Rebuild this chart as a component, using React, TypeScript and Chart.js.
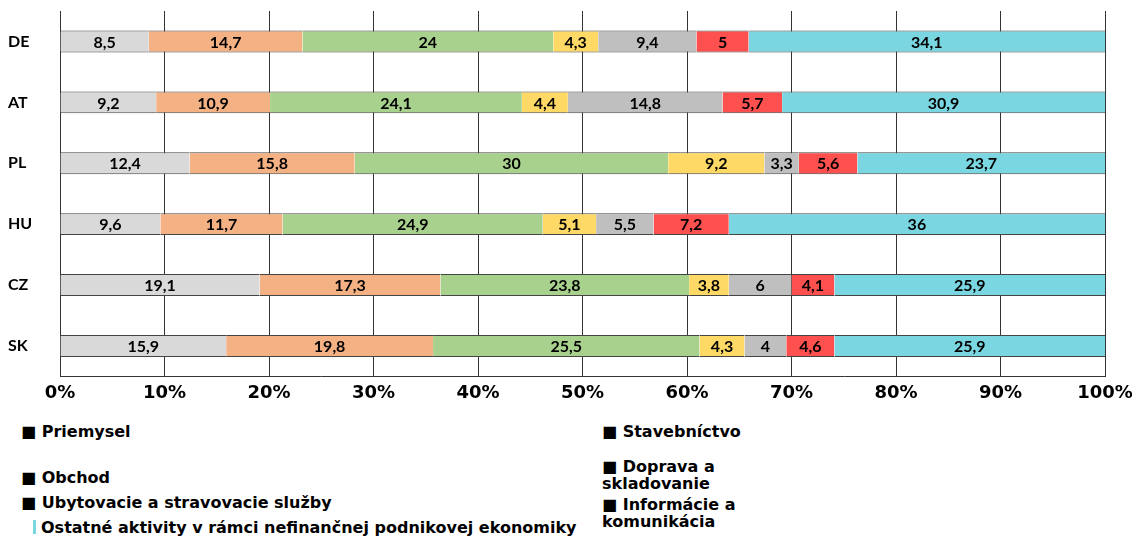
import React, { useEffect, useRef } from "react";
import { Chart, registerables } from "chart.js";

Chart.register(...registerables);

const countries = ["DE", "AT", "PL", "HU", "CZ", "SK"];
const seriesNames = [
  "Priemysel",
  "Stavebníctvo",
  "Obchod",
  "Doprava a skladovanie",
  "Ubytovacie a stravovacie služby",
  "Informácie a komunikácia",
  "Ostatné aktivity v rámci nefinančnej podnikovej ekonomiky",
];
const priemysel = [8.5, 9.2, 12.4, 9.6, 19.1, 15.9];
const stavebnictvo = [14.7, 10.9, 15.8, 11.7, 17.3, 19.8];
const obchod = [24, 24.1, 30, 24.9, 23.8, 25.5];
const doprava = [4.3, 4.4, 9.2, 5.1, 3.8, 4.3];
const ubytovanie = [9.4, 14.8, 3.3, 5.5, 6, 4];
const informacie = [5, 5.7, 5.6, 7.2, 4.1, 4.6];
const ostatne = [34.1, 30.9, 23.7, 36, 25.9, 25.9];
const seriesValues = [priemysel, stavebnictvo, obchod, doprava, ubytovanie, informacie, ostatne];
const seriesColors = ["#d9d9d9", "#f4b183", "#a9d18e", "#ffd966", "#bfbfbf", "#ff5050", "#7ad6e0"];
const xMin = 0;
const xMax = 100;
const xStep = 10;

const valueLabels = {
  id: "valueLabels",
  afterDatasetsDraw(chart: any) {
    const ctx = chart.ctx;
    ctx.save();
    ctx.font = "bold 16px Lato";
    ctx.fillStyle = "#000";
    ctx.textAlign = "center";
    ctx.textBaseline = "middle";
    chart.data.datasets.forEach((ds: any, i: number) => {
      const meta = chart.getDatasetMeta(i);
      meta.data.forEach((bar: any, j: number) => {
        const v = ds.data[j];
        const p = bar.getProps(["x", "base", "y"], true);
        ctx.fillText(String(v).replace(".", ","), (p.x + p.base) / 2, p.y + 1);
      });
    });
    ctx.restore();
  },
};

// legend item placement (layout only)
const legendLeft = [
  { s: 0, top: 4 },
  { s: 2, top: 50 },
  { s: 4, top: 75 },
  { s: 6, top: 100 },
];
const legendRight = [
  { s: 1, top: 4 },
  { s: 3, top: 40 },
  { s: 5, top: 78 },
];

export default function App() {
  const ref = useRef<HTMLCanvasElement>(null);

  useEffect(() => {
    if (!ref.current) return;
    const chart = new Chart(ref.current, {
      type: "bar",
      data: {
        labels: countries,
        datasets: seriesNames.map((name, i) => ({
          label: name,
          data: seriesValues[i],
          backgroundColor: seriesColors[i],
          borderColor: "#444",
          borderWidth: { top: 1, bottom: 1, left: 0, right: 0 },
          borderSkipped: false,
          barPercentage: 0.9,
          categoryPercentage: 0.4,
        })),
      },
      plugins: [valueLabels],
      options: {
        indexAxis: "y",
        animation: false,
        responsive: true,
        maintainAspectRatio: false,
        layout: { padding: { top: 3, right: 35, bottom: 8, left: 0 } },
        plugins: {
          legend: { display: false },
          tooltip: { enabled: false },
        },
        scales: {
          x: {
            stacked: true,
            min: xMin,
            max: xMax,
            ticks: {
              stepSize: xStep,
              callback: (v: any) => v + "%",
              color: "#000",
              font: { family: "DejaVu Sans", weight: "bold", size: 18 },
              padding: 6,
              maxRotation: 0,
              autoSkip: false,
            },
            grid: { color: "#333", lineWidth: 1, drawTicks: false },
            border: { display: true, color: "#333" },
            afterFit: (scale: any) => {
              scale.paddingRight = 0;
              scale.paddingLeft = 0;
            },
          },
          y: {
            stacked: true,
            grid: { display: false },
            border: { display: true, color: "#333" },
            ticks: {
              color: "#000",
              font: { family: "Lato", weight: "bold", size: 16 },
              crossAlign: "far",
            },
            afterFit: (scale: any) => {
              scale.width = 52;
              scale.paddingTop = 0;
              scale.paddingBottom = 0;
            },
          },
        },
      } as any,
    });
    return () => chart.destroy();
  }, []);

  const itemStyle: React.CSSProperties = {
    position: "absolute",
    fontFamily: "DejaVu Sans",
    fontWeight: "bold",
    fontSize: 16,
    lineHeight: "19px",
    color: "#000",
    whiteSpace: "nowrap",
  };

  const renderItem = (s: number, top: number, left: number, wrapWidth?: number) => {
    const last = s === seriesNames.length - 1;
    return (
      <div
        key={s}
        style={{
          ...itemStyle,
          top,
          left,
          whiteSpace: wrapWidth ? "normal" : "nowrap",
          width: wrapWidth,
          lineHeight: wrapWidth ? "17px" : "19px",
        }}
      >
        {last ? (
          <span
            style={{
              display: "inline-block",
              width: 3,
              height: 14,
              background: seriesColors[s],
              marginLeft: 12,
              marginRight: 5,
              verticalAlign: "-1px",
            }}
          />
        ) : (
          <span>■ </span>
        )}
        {seriesNames[s]}
      </div>
    );
  };

  return (
    <div style={{ width: 1132 }}>
      <div style={{ position: "relative", width: 1132, height: 410 }}>
        <canvas ref={ref} />
      </div>
      <div style={{ position: "relative", width: 1124, height: 125, overflow: "hidden" }}>
        {legendLeft.map((it) => renderItem(it.s, it.top, 13))}
        {legendRight.map((it) =>
          renderItem(it.s, it.top, 594, it.s === 3 || it.s === 5 ? 190 : undefined)
        )}
      </div>
    </div>
  );
}
